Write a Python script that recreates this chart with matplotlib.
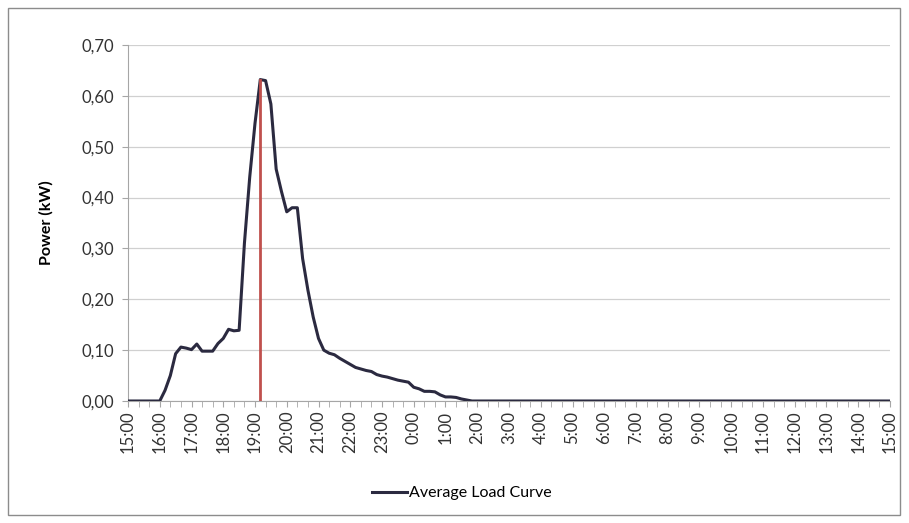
import matplotlib
matplotlib.use("Agg")
import matplotlib.pyplot as plt
import numpy as np

# 10-minute intervals starting 15:00, values in kW
power = [
    # 15:00 - 15:50
    0, 0, 0, 0, 0, 0,
    # 16:00 - 16:50
    0, 0.021, 0.05, 0.093, 0.106, 0.104,
    # 17:00 - 17:50
    0.101, 0.112, 0.098, 0.098, 0.098, 0.113,
    # 18:00 - 18:50
    0.123, 0.141, 0.138, 0.139, 0.31, 0.44,
    # 19:00 - 19:50
    0.546, 0.632, 0.63, 0.584, 0.456, 0.412,
    # 20:00 - 20:50
    0.372, 0.38, 0.38, 0.28, 0.218, 0.165,
    # 21:00 - 21:50
    0.123, 0.10, 0.094, 0.091, 0.084, 0.078,
    # 22:00 - 22:50
    0.072, 0.066, 0.063, 0.060, 0.058, 0.052,
    # 23:00 - 23:50
    0.049, 0.047, 0.044, 0.041, 0.039, 0.037,
    # 0:00 - 0:50
    0.027, 0.024, 0.019, 0.019, 0.018, 0.012,
    # 1:00 - 1:50
    0.008, 0.008, 0.007, 0.004, 0.002, 0,
]
n_total = 145
power = power + [0] * (n_total - len(power))

hour_labels = [f"{(15 + h) % 24}:00" for h in range(25)]
peak_index = 25  # 19:10
series_name = "Average Load Curve"

line_color = "#2B2A40"
red_color = "#C0504D"
grid_color = "#D0D0D0"
spine_color = "#A6A6A6"

plt.rcParams['font.family'] = ['Lato', 'DejaVu Sans']

fig = plt.figure(figsize=(9.09, 5.23), dpi=100)
ax = fig.add_axes([128/909, 1 - 401/523, (890-128)/909, (401-45)/523])

x = np.arange(n_total)
ax.plot(x, power, color=line_color, lw=2.2, label=series_name, zorder=3,
        solid_joinstyle='round')
ax.plot([peak_index, peak_index], [0, power[peak_index]], color=red_color, lw=2, zorder=4)

ax.set_xlim(0, n_total - 1)
ax.set_ylim(0, 0.70)
ax.set_yticks(np.arange(0, 0.71, 0.1))
ax.set_yticklabels([f"{v:.2f}".replace(".", ",") for v in np.arange(0, 0.71, 0.1)],
                   fontsize=12, color="#333333")
ax.set_xticks(np.arange(0, n_total, 6))
ax.set_xticklabels(hour_labels, rotation=90, fontsize=12, color="#333333")
ax.set_xticks(np.arange(0, n_total, 2), minor=True)
ax.tick_params(axis='x', which='both', direction='out', length=4, color=spine_color, pad=3)
ax.tick_params(axis='y', direction='out', length=4, color=spine_color, pad=6)
ax.grid(axis='y', color=grid_color, lw=0.9)
ax.set_axisbelow(True)
for s in ['top', 'right']:
    ax.spines[s].set_visible(False)
for s in ['left', 'bottom']:
    ax.spines[s].set_color(spine_color)
ax.set_ylabel("Power (kW)", fontsize=11.5, fontweight='bold', labelpad=20)

leg = fig.legend(loc='center', bbox_to_anchor=(462/909, 1 - 493/523), frameon=False,
                 fontsize=11.5, handlelength=2.2, handletextpad=0.1)

border = plt.Rectangle((8/909, 8/523), 892/909, 507/523, transform=fig.transFigure,
                       fill=False, edgecolor="#8C8C8C", lw=1)
fig.patches.append(border)

fig.savefig("out.png", dpi=100)
